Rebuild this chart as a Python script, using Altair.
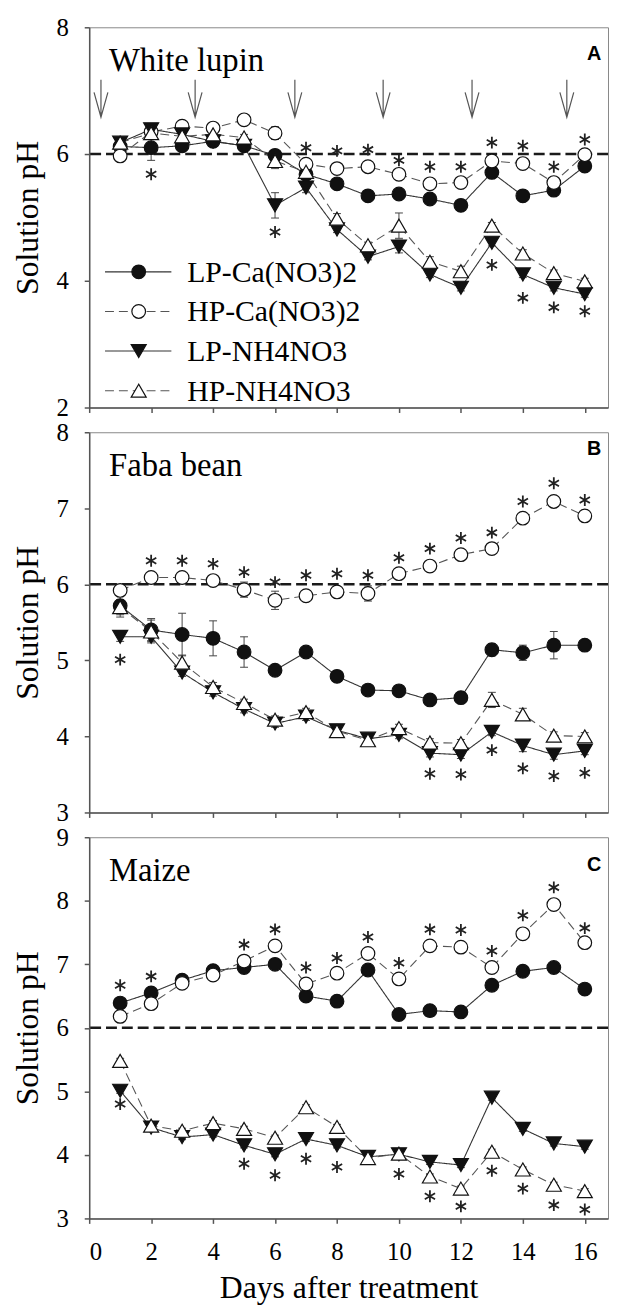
import altair as alt
import pandas as pd

days = list(range(1, 17))
series = ["LP-Ca(NO3)2", "HP-Ca(NO3)2", "LP-NH4NO3", "HP-NH4NO3"]

# ---- Panel A: White lupin ----
a_lp_ca = [6.12, 6.10, 6.13, 6.20, 6.13, 5.98, 5.68, 5.53, 5.34, 5.37, 5.29, 5.19, 5.71, 5.34, 5.43, 5.81]
a_hp_ca = [5.97, 6.35, 6.44, 6.41, 6.54, 6.33, 5.84, 5.77, 5.80, 5.68, 5.53, 5.55, 5.89, 5.85, 5.55, 5.99]
a_lp_nh4 = [6.18, 6.39, 6.31, 6.20, 6.13, 5.19, 5.47, 4.81, 4.38, 4.54, 4.10, 3.89, 4.60, 4.10, 3.89, 3.79]
a_hp_nh4 = [6.18, 6.33, 6.28, 6.31, 6.26, 5.89, 5.72, 4.98, 4.56, 4.87, 4.30, 4.15, 4.87, 4.43, 4.12, 3.99]
a_err_lp_ca = [0.05, 0.2, 0.08, 0.05, 0.05, 0.08, 0.05, 0.05, 0.05, 0.05, 0.05, 0.05, 0.05, 0.05, 0.05, 0.05]
a_err_hp_ca = [0.05, 0.05, 0.05, 0.05, 0.05, 0.1, 0.05, 0.05, 0.05, 0.08, 0.05, 0.05, 0.05, 0.05, 0.05, 0.05]
a_err_lp_nh4 = [0.05, 0.05, 0.05, 0.05, 0.05, 0.2, 0.08, 0.05, 0.05, 0.1, 0.05, 0.05, 0.05, 0.05, 0.05, 0.05]
a_err_hp_nh4 = [0.05, 0.05, 0.05, 0.05, 0.05, 0.12, 0.05, 0.08, 0.05, 0.2, 0.08, 0.08, 0.05, 0.06, 0.05, 0.05]
a_star_days = [2, 6, 7, 8, 9, 10, 11, 12, 13, 14, 15, 16, 13, 14, 15, 16]
a_star_ph = [5.68, 4.77, 6.10, 6.05, 6.07, 5.90, 5.80, 5.80, 6.18, 6.13, 5.80, 6.23, 4.25, 3.73, 3.58, 3.52]
arrow_days = [0.38, 3.42, 6.64, 9.49, 12.36, 15.42]
arrow_tip_ph = [6.58] * 6

# ---- Panel B: Faba bean ----
b_lp_ca = [5.72, 5.40, 5.34, 5.29, 5.11, 4.87, 5.11, 4.79, 4.61, 4.60, 4.48, 4.51, 5.14, 5.10, 5.20, 5.20]
b_hp_ca = [5.92, 6.09, 6.09, 6.05, 5.93, 5.79, 5.85, 5.90, 5.88, 6.14, 6.24, 6.39, 6.47, 6.87, 7.09, 6.90]
b_lp_nh4 = [5.31, 5.31, 4.84, 4.58, 4.36, 4.17, 4.26, 4.08, 3.97, 4.02, 3.78, 3.76, 4.06, 3.88, 3.76, 3.81]
b_hp_nh4 = [5.70, 5.38, 4.97, 4.65, 4.44, 4.22, 4.32, 4.07, 3.95, 4.11, 3.92, 3.91, 4.48, 4.29, 4.01, 4.00]
b_err_lp_ca = [0.15, 0.15, 0.28, 0.23, 0.2, 0.05, 0.05, 0.05, 0.05, 0.06, 0.05, 0.06, 0.08, 0.1, 0.18, 0.05]
b_err_hp_ca = [0.05, 0.05, 0.05, 0.05, 0.1, 0.12, 0.05, 0.05, 0.1, 0.05, 0.05, 0.05, 0.05, 0.05, 0.05, 0.05]
b_err_lp_nh4 = [0.06, 0.05, 0.05, 0.05, 0.05, 0.05, 0.05, 0.05, 0.05, 0.05, 0.05, 0.05, 0.05, 0.08, 0.06, 0.05]
b_err_hp_nh4 = [0.1, 0.15, 0.1, 0.06, 0.05, 0.05, 0.05, 0.05, 0.05, 0.05, 0.05, 0.05, 0.1, 0.08, 0.05, 0.05]
b_star_days = [2, 3, 4, 5, 6, 7, 8, 9, 10, 11, 12, 13, 14, 15, 16, 1, 11, 12, 13, 14, 15, 16]
b_star_ph = [6.31, 6.31, 6.27, 6.16, 6.03, 6.12, 6.14, 6.12, 6.35, 6.47, 6.61, 6.68, 7.09, 7.33, 7.11,
             5.01, 3.51, 3.50, 3.82, 3.58, 3.48, 3.52]

# ---- Panel C: Maize ----
c_lp_ca = [6.39, 6.55, 6.75, 6.90, 6.95, 7.00, 6.50, 6.42, 6.91, 6.21, 6.27, 6.25, 6.67, 6.89, 6.95, 6.61]
c_hp_ca = [6.18, 6.38, 6.70, 6.83, 7.05, 7.29, 6.69, 6.86, 7.17, 6.77, 7.29, 7.27, 6.95, 7.48, 7.94, 7.34]
c_lp_nh4 = [5.01, 4.43, 4.28, 4.32, 4.15, 4.01, 4.25, 4.15, 3.97, 4.01, 3.89, 3.84, 4.90, 4.41, 4.18, 4.13]
c_hp_nh4 = [5.48, 4.46, 4.38, 4.50, 4.41, 4.27, 4.75, 4.44, 3.95, 4.02, 3.66, 3.47, 4.05, 3.77, 3.53, 3.43]
c_err = [0.04] * 16
c_star_days = [1, 2, 5, 6, 7, 8, 9, 10, 11, 12, 13, 14, 15, 16,
               1, 5, 6, 7, 8, 10, 11, 12, 13, 14, 15, 16]
c_star_ph = [6.67, 6.81, 7.31, 7.55, 6.95, 7.10, 7.43, 7.02, 7.55, 7.54, 7.21, 7.77, 8.21, 7.57,
             4.80, 3.86, 3.68, 3.94, 3.81, 3.70, 3.35, 3.19, 3.75, 3.47, 3.21, 3.14]

SERIF = "'Liberation Serif', 'Times New Roman', Times, 'DejaVu Serif', serif"
SANS = "'Liberation Sans', Arial, Helvetica, sans-serif"
ASTER = "M0,-1L0,1M-0.866,-0.5L0.866,0.5M-0.866,0.5L0.866,-0.5"
ARROW = "M0,-1L0,0M-0.184,-0.66L0,0L0.184,-0.66"
CAP = "M-1,0L1,0"

styles = {
    "LP-Ca(NO3)2": dict(shape="circle", fill="#111111", dash=[1, 0], size=190, lc="#333333"),
    "HP-Ca(NO3)2": dict(shape="circle", fill="white", dash=[9, 5], size=190, lc="#555555"),
    "LP-NH4NO3": dict(shape="triangle-down", fill="#111111", dash=[1, 0], size=230, lc="#333333"),
    "HP-NH4NO3": dict(shape="triangle-up", fill="white", dash=[9, 5], size=230, lc="#555555"),
}


def make_panel(vals, errs, star_days, star_ph, ydom, ystep, name, letter, letter_y, last,
               height, legend=False, arrows=False):
    xs = alt.Scale(domain=[0, 16.75], nice=False, zero=False)
    ys = alt.Scale(domain=ydom, nice=False, zero=False)
    xaxis = alt.Axis(values=list(range(0, 17, 2)), labels=last,
                     title="Days after treatment" if last else None)
    yaxis = alt.Axis(values=list(range(ydom[0], ydom[1] + 1, ystep)), title="Solution pH")
    X = alt.X("day:Q", scale=xs, axis=xaxis)
    Y = alt.Y("ph:Q", scale=ys, axis=yaxis)

    layers = []
    layers.append(alt.Chart(pd.DataFrame({"ph": [6.0]})).mark_rule(
        strokeDash=[11, 5], strokeWidth=2.5, color="#1a1a1a").encode(y=Y))

    if arrows:
        adf = pd.DataFrame({"day": arrow_days, "ph": arrow_tip_ph})
        layers.append(alt.Chart(adf).mark_point(
            shape=ARROW, size=5776, filled=False, stroke="#555555", strokeWidth=1.2, opacity=1
        ).encode(x=X, y=Y))

    frames = {}
    for s, v, e in zip(series, vals, errs):
        frames[s] = pd.DataFrame({"day": days, "ph": v,
                                  "lo": [a - b for a, b in zip(v, e)],
                                  "hi": [a + b for a, b in zip(v, e)]})
    for s in series:
        st = styles[s]
        layers.append(alt.Chart(frames[s]).mark_line(
            color=st["lc"], strokeWidth=1.1, strokeDash=st["dash"]).encode(x=X, y=Y))
    for s in series:
        df = frames[s]
        layers.append(alt.Chart(df).mark_rule(color="#444444", strokeWidth=1).encode(
            x=X, y=alt.Y("lo:Q", scale=ys, axis=yaxis), y2="hi:Q"))
        layers.append(alt.Chart(df).mark_point(shape=CAP, size=64, filled=False, stroke="#444444",
                                               strokeWidth=1, opacity=1).encode(
            x=X, y=alt.Y("lo:Q", scale=ys, axis=yaxis)))
        layers.append(alt.Chart(df).mark_point(shape=CAP, size=64, filled=False, stroke="#444444",
                                               strokeWidth=1, opacity=1).encode(
            x=X, y=alt.Y("hi:Q", scale=ys, axis=yaxis)))
    for s in series:
        st = styles[s]
        layers.append(alt.Chart(frames[s]).mark_point(
            shape=st["shape"], size=st["size"], filled=True, fill=st["fill"], stroke="#111111",
            strokeWidth=1.2, opacity=1).encode(x=X, y=Y))

    sdf = pd.DataFrame({"day": star_days, "ph": star_ph})
    layers.append(alt.Chart(sdf).mark_point(
        shape=ASTER, size=144, filled=False, stroke="#222222", strokeWidth=1.8, opacity=1
    ).encode(x=X, y=Y))

    layers.append(alt.Chart(pd.DataFrame({"t": [name]})).mark_text(
        font=SERIF, fontSize=33, align="left", baseline="alphabetic", color="black"
    ).encode(x=alt.value(20), y=alt.value(44), text="t:N"))
    layers.append(alt.Chart(pd.DataFrame({"t": [letter]})).mark_text(
        font=SANS, fontSize=20, fontWeight="bold", align="center", baseline="alphabetic", color="black"
    ).encode(x=alt.value(510), y=alt.value(letter_y), text="t:N"))

    if legend:
        for i, s in enumerate(series):
            st = styles[s]
            cy = 247 + 40 * i
            ldf = pd.DataFrame({"t": [s]})
            layers.append(alt.Chart(ldf).mark_rule(
                color=st["lc"], strokeWidth=1.1, strokeDash=st["dash"]).encode(
                x=alt.value(16), x2=alt.value(83), y=alt.value(cy)))
            layers.append(alt.Chart(ldf).mark_point(
                shape=st["shape"], size=st["size"], filled=True, fill=st["fill"], stroke="#111111",
                strokeWidth=1.2, opacity=1).encode(x=alt.value(50), y=alt.value(cy)))
            layers.append(alt.Chart(ldf).mark_text(
                font=SERIF, fontSize=30, align="left", baseline="middle", color="black").encode(
                x=alt.value(99), y=alt.value(cy + 1), text="t:N"))

    return alt.layer(*layers).properties(width=524, height=height)


pA = make_panel([a_lp_ca, a_hp_ca, a_lp_nh4, a_hp_nh4],
                [a_err_lp_ca, a_err_hp_ca, a_err_lp_nh4, a_err_hp_nh4],
                a_star_days, a_star_ph, [2, 8], 2, "White lupin", "A", 33, False, 384,
                legend=True, arrows=True)
pB = make_panel([b_lp_ca, b_hp_ca, b_lp_nh4, b_hp_nh4],
                [b_err_lp_ca, b_err_hp_ca, b_err_lp_nh4, b_err_hp_nh4],
                b_star_days, b_star_ph, [3, 8], 1, "Faba bean", "B", 23, False, 384)
pC = make_panel([c_lp_ca, c_hp_ca, c_lp_nh4, c_hp_nh4],
                [c_err, c_err, c_err, c_err],
                c_star_days, c_star_ph, [3, 9], 1, "Maize", "C", 34, True, 385)

chart = alt.vconcat(pA, pB, pC, spacing=25, bounds="flush").properties(
    padding={"left": 3, "top": 0, "right": 0, "bottom": 0}
).configure_axis(
    labelFont=SERIF, labelFontSize=25, titleFont=SERIF, titleFontSize=32,
    titleFontWeight="normal", labelColor="black", titleColor="black",
    domainColor="#555555", tickColor="#555555", domainWidth=1.5, tickWidth=1.5,
    tickSize=5, grid=False
).configure_axisY(labelPadding=16, titlePadding=12).configure_axisX(
    labelPadding=16, titlePadding=9
).configure_view(stroke="#888888", strokeWidth=1)

chart.save("out.html", embed_options={"renderer": "svg", "actions": False})
